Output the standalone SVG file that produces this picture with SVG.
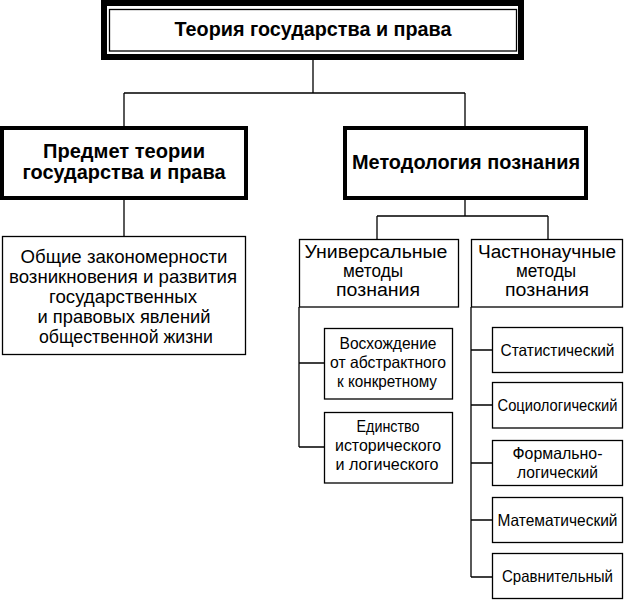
<svg xmlns="http://www.w3.org/2000/svg" width="624" height="600" viewBox="0 0 624 600">
<style>
.bg{fill:#fff}
.thick{fill:#fff;stroke:#000;stroke-width:4}
.thin{fill:#fff;stroke:#000;stroke-width:1.3}
.conn{fill:none;stroke:#000;stroke-width:1.3}
text{font-family:"Liberation Sans",Arial,sans-serif;fill:#000;text-anchor:middle}
.b18{font-size:20px;font-weight:bold}
.r17{font-size:19px}
.r18{font-size:18px}
.r14{font-size:16.5px}
</style>
<rect class="bg" x="0" y="0" width="624" height="600"/>
<g id="connectors">
<path class="conn" d="M313,60V93M124,93H465M124,93V128M465,93V128"/>
<path class="conn" d="M124,198V236"/>
<path class="conn" d="M465,198V216M377,216H548M377,216V239M548,216V239"/>
<path class="conn" d="M299,307V447M299,363H324M299,447H324"/>
<path class="conn" d="M471,307V577M471,350H492M471,405H492M471,463H492M471,520H492M471,577H492"/>
</g>
<g id="root">
<rect x="104" y="3" width="417" height="54" fill="#fff" stroke="#000" stroke-width="6"/>
<rect class="thin" x="109.5" y="9.5" width="407" height="41.5"/>
<text class="b18" x="313" y="36" textLength="277" lengthAdjust="spacingAndGlyphs">Теория государства и права</text>
</g>
<g id="subject">
<rect class="thick" x="2" y="128" width="244" height="70"/>
<text class="b18" x="124" y="158" textLength="162" lengthAdjust="spacingAndGlyphs">Предмет теории</text>
<text class="b18" x="124" y="179" textLength="203" lengthAdjust="spacingAndGlyphs">государства и права</text>
</g>
<g id="methodology">
<rect class="thick" x="345" y="128" width="241" height="70"/>
<text class="b18" x="466" y="169" textLength="228" lengthAdjust="spacingAndGlyphs">Методология познания</text>
</g>
<g id="laws">
<rect class="thin" x="2.5" y="236.5" width="243" height="118"/>
<text class="r17" x="124" y="263" textLength="207" lengthAdjust="spacingAndGlyphs">Общие закономерности</text>
<text class="r17" x="123" y="283" textLength="228" lengthAdjust="spacingAndGlyphs">возникновения и развития</text>
<text class="r17" x="123" y="303" textLength="148" lengthAdjust="spacingAndGlyphs">государственных</text>
<text class="r17" x="124" y="323" textLength="173" lengthAdjust="spacingAndGlyphs">и правовых явлений</text>
<text class="r17" x="126" y="343" textLength="174" lengthAdjust="spacingAndGlyphs">общественной жизни</text>
</g>
<g id="universal">
<rect class="thin" x="299.5" y="239.5" width="159" height="67.5"/>
<text class="r18" x="376" y="258" textLength="143" lengthAdjust="spacingAndGlyphs">Универсальные</text>
<text class="r18" x="373" y="277" textLength="60" lengthAdjust="spacingAndGlyphs">методы</text>
<text class="r18" x="378" y="296" textLength="84" lengthAdjust="spacingAndGlyphs">познания</text>
</g>
<g id="specific">
<rect class="thin" x="471.5" y="239.5" width="151" height="67.5"/>
<text class="r18" x="547" y="258" textLength="138" lengthAdjust="spacingAndGlyphs">Частнонаучные</text>
<text class="r18" x="546" y="277" textLength="60" lengthAdjust="spacingAndGlyphs">методы</text>
<text class="r18" x="547" y="296" textLength="84" lengthAdjust="spacingAndGlyphs">познания</text>
</g>
<g id="ascent">
<rect class="thin" x="324.5" y="328.5" width="128" height="70.5"/>
<text class="r14" x="388" y="349" textLength="97" lengthAdjust="spacingAndGlyphs">Восхождение</text>
<text class="r14" x="388" y="368" textLength="116" lengthAdjust="spacingAndGlyphs">от абстрактного</text>
<text class="r14" x="387" y="387" textLength="100" lengthAdjust="spacingAndGlyphs">к конкретному</text>
</g>
<g id="unity">
<rect class="thin" x="324.5" y="412.5" width="128" height="70.5"/>
<text class="r14" x="388" y="432" textLength="63" lengthAdjust="spacingAndGlyphs">Единство</text>
<text class="r14" x="388" y="451" textLength="106" lengthAdjust="spacingAndGlyphs">исторического</text>
<text class="r14" x="387" y="470" textLength="103" lengthAdjust="spacingAndGlyphs">и логического</text>
</g>
<g id="statistical">
<rect class="thin" x="492.5" y="327.5" width="130" height="45"/>
<text class="r14" x="557.5" y="356" textLength="114" lengthAdjust="spacingAndGlyphs">Статистический</text>
</g>
<g id="sociological">
<rect class="thin" x="492.5" y="382.5" width="130" height="45.5"/>
<text class="r14" x="557.5" y="411" textLength="120" lengthAdjust="spacingAndGlyphs">Социологический</text>
</g>
<g id="formal">
<rect class="thin" x="492.5" y="440.5" width="130" height="45"/>
<text class="r14" x="557.5" y="459" textLength="90" lengthAdjust="spacingAndGlyphs">Формально-</text>
<text class="r14" x="557.5" y="478" textLength="81" lengthAdjust="spacingAndGlyphs">логический</text>
</g>
<g id="mathematical">
<rect class="thin" x="492.5" y="497.5" width="130" height="45"/>
<text class="r14" x="557.5" y="526" textLength="120" lengthAdjust="spacingAndGlyphs">Математический</text>
</g>
<g id="comparative">
<rect class="thin" x="492.5" y="553.5" width="130" height="45"/>
<text class="r14" x="557.5" y="582" textLength="111" lengthAdjust="spacingAndGlyphs">Сравнительный</text>
</g>
</svg>
